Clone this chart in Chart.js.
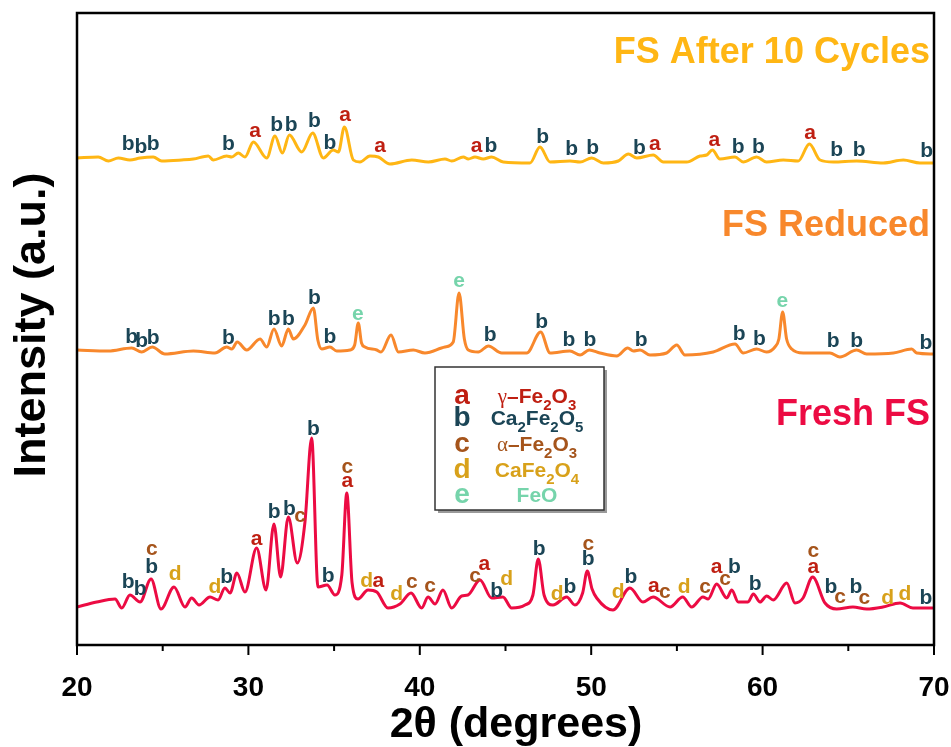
<!DOCTYPE html>
<html>
<head>
<meta charset="utf-8">
<script src="https://cdn.jsdelivr.net/npm/chart.js@4.4.0/dist/chart.umd.min.js"></script>
<style>
  html, body { margin: 0; padding: 0; background: #fff; }
</style>
</head>
<body>
<canvas id="xrd" width="951" height="747"></canvas>
<script>
// XRD patterns, [2theta, intensity (a.u., already stacked)]
var freshFS = [
  [20.0,38],[21.15,43],[22.22,46],[22.61,37],[23.09,50],[23.68,43],[24.32,66],[24.90,36],
  [25.66,58],[26.30,38],[26.69,47],[27.12,40],[27.76,48],[28.23,45],[28.63,57],[28.93,52],
  [29.33,72],[29.80,53],[30.48,97],[31.03,55],[31.49,121],[31.88,68],[32.33,128],[32.85,82],
  [33.30,123],[33.69,207],[34.06,58],[34.59,60],[35.05,50],[35.45,70],[35.74,152],[36.05,62],
  [36.39,46],[36.98,55],[37.49,53],[38.14,37],[38.84,41],[39.49,52],[40.11,37],[40.48,48],
  [40.89,41],[41.35,55],[41.86,37],[42.44,49],[42.81,50],[43.51,65],[44.19,47],[44.85,48],
  [45.36,37],[46.14,40],[46.60,50],[46.91,86],[47.25,50],[47.77,40],[48.57,48],[49.05,40],
  [49.50,52],[49.77,74],[50.05,56],[50.32,47],[51.27,35],[52.26,57],[53.02,43],[53.61,48],
  [54.60,38],[55.34,48],[55.86,38],[56.52,48],[56.82,46],[57.32,61],[57.91,47],[58.20,55],
  [58.58,43],[59.15,43],[59.46,51],[59.85,43],[60.24,49],[60.62,45],[61.41,62],[61.89,42],
  [62.36,47],[62.92,68],[63.64,42],[64.32,36],[65.27,38],[66.07,36],[67.02,38],[68.02,42],
  [68.77,37],[69.94,37]
];
var fsReduced = [
  [20.0,295],[21.83,294],[23.19,297],[23.77,293],[24.39,298],[25.13,291],[26.79,294],[28.05,292],
  [28.73,298],[29.03,296],[29.35,303],[29.90,295],[30.68,306],[31.07,298],[31.49,316],[31.94,299],
  [32.33,316],[32.62,306],[33.30,320],[33.79,337],[34.05,305],[34.28,296],[34.76,298],[35.15,294],
  [35.93,295],[36.20,300],[36.41,322],[36.60,302],[36.80,298],[37.49,295],[37.74,293],[38.32,310],
  [38.75,293],[39.62,295],[40.30,292],[41.47,298],[41.95,303],[42.29,352],[42.60,306],[42.83,295],
  [43.41,293],[44.00,299],[44.78,292],[46.24,292],[47.05,313],[47.60,292],[48.76,294],[49.35,290],
  [49.89,295],[50.51,292],[51.49,289],[52.13,297],[52.46,294],[52.85,295],[53.43,290],[54.40,292],
  [54.99,300],[55.47,290],[57.12,293],[58.39,301],[58.87,292],[59.65,296],[60.23,293],[60.72,298],
  [60.95,306],[61.17,333],[61.40,306],[61.70,296],[62.37,292],[63.93,292],[64.51,288],[65.49,295],
  [66.07,291],[67.63,292],[68.70,296],[68.99,292],[69.96,291]
];
var fsAfterCycles = [
  [20.0,487],[21.24,488],[21.83,484],[22.41,487],[23.09,485],[23.68,487],[24.45,488],[24.94,484],
  [26.11,485],[26.79,486],[27.66,489],[27.95,485],[28.73,489],[29.03,488],[29.41,492],[29.80,488],
  [30.29,503],[31.07,487],[31.55,509],[31.98,492],[32.39,510],[33.11,493],[33.75,512],[34.37,487],
  [34.95,495],[35.25,493],[35.60,518],[36.12,485],[36.51,483],[37.09,489],[37.58,488],[38.26,481],
  [39.53,485],[40.50,483],[41.47,486],[41.86,484],[42.54,488],[42.83,486],[43.22,488],[43.70,486],
  [44.19,488],[44.87,483],[46.43,482],[47.01,498],[47.60,483],[48.76,484],[49.35,483],[50.03,487],
  [50.71,482],[51.58,484],[52.17,491],[52.66,487],[53.62,490],[54.21,483],[55.57,483],[56.35,489],
  [56.74,490],[57.07,495],[57.51,486],[58.39,488],[58.87,483],[59.65,488],[60.23,483],[61.21,485],
  [62.08,484],[62.73,501],[63.35,485],[64.13,483],[65.49,484],[67.04,482],[68.21,485],[69.18,482],
  [69.96,482]
];

// phase marks above peaks: [2theta, intensity, phase letter]
var freshPeaks = [
  [22.99,57,'b'],[23.68,50,'b'],[24.36,72,'b'],[24.36,90,'c'],[25.72,65,'d'],[28.05,52,'d'],
  [28.73,62,'b'],[30.48,100,'a'],[31.51,127,'b'],[32.39,130,'b'],[33.01,123,'c'],[33.79,210,'b'],
  [34.66,63,'b'],[35.77,158,'a'],[35.77,172,'c'],[36.90,58,'d'],[37.58,58,'a'],[38.65,45,'d'],
  [39.53,57,'c'],[40.60,53,'c'],[43.22,63,'c'],[43.76,75,'a'],[44.49,48,'b'],[45.07,60,'d'],
  [46.97,90,'b'],[48.02,45,'d'],[48.76,52,'b'],[49.83,80,'b'],[49.83,95,'c'],[51.58,47,'d'],
  [52.32,62,'b'],[53.66,53,'a'],[54.30,47,'c'],[55.43,52,'d'],[56.64,52,'c'],[57.32,72,'a'],
  [57.81,60,'c'],[58.35,72,'b'],[59.56,55,'b'],[62.96,72,'a'],[62.96,88,'c'],[63.99,52,'b'],
  [64.52,42,'c'],[65.45,52,'b'],[65.93,41,'c'],[67.30,41,'d'],[68.31,45,'d'],[69.53,41,'b']
];
var reducedPeaks = [
  [23.19,302,'b'],[23.77,298,'b'],[24.45,301,'b'],[28.83,301,'b'],[31.51,320,'b'],[32.33,320,'b'],
  [33.85,341,'b'],[34.76,302,'b'],[36.38,325,'e'],[42.29,358,'e'],[44.10,304,'b'],[47.11,317,'b'],
  [48.70,299,'b'],[49.93,299,'b'],[52.91,299,'b'],[58.63,305,'b'],[59.81,300,'b'],[61.15,338,'e'],
  [64.12,298,'b'],[65.49,298,'b'],[69.53,296,'b']
];
var afterPeaks = [
  [22.99,495,'b'],[23.73,492,'b'],[24.45,495,'b'],[28.83,495,'b'],[30.39,508,'a'],[31.65,514,'b'],
  [32.49,514,'b'],[33.85,518,'b'],[34.76,496,'b'],[35.64,524,'a'],[37.68,493,'a'],[43.32,493,'a'],
  [44.15,493,'b'],[47.17,502,'b'],[48.86,490,'b'],[50.09,491,'b'],[52.81,491,'b'],[53.72,495,'a'],
  [57.18,499,'a'],[58.58,492,'b'],[59.75,492,'b'],[62.77,506,'a'],[64.32,489,'b'],[65.64,489,'b'],
  [69.57,488,'b']
];

var seriesNames = ['Fresh FS', 'FS Reduced', 'FS After 10 Cycles'];
var seriesColors = ['#ec0b43', '#f8882c', '#ffb614'];
var seriesNameY = [220, 409, 582];

var phaseKeys = ['a', 'b', 'c', 'd', 'e'];
var phaseNames = ['\u03b3\u2013Fe_2O_3', 'Ca_2Fe_2O_5', '\u03b1\u2013Fe_2O_3', 'CaFe_2O_4', 'FeO'];
var phaseColors = { a: '#bf1f12', b: '#1b4556', c: '#a5541b', d: '#d8a11a', e: '#76d4ab' };

var xTicks = [20, 30, 40, 50, 60, 70];
var xMinorTicks = [25, 35, 45, 55, 65];

function toPoints(arr) {
  return arr.map(function (p) { return { x: p[0], y: p[1] }; });
}

var SANS = '"Liberation Sans", Arial, sans-serif';

// formula with "_x" subscripts, greek letters in serif
function drawFormula(ctx, text, cx, y, color) {
  var parts = [];
  for (var i = 0; i < text.length; i++) {
    var ch = text[i];
    if (ch === '_') { parts.push({ t: text[i + 1], sub: true }); i++; }
    else parts.push({ t: ch, sub: false, greek: /[\u03b1-\u03c9]/.test(ch) });
  }
  function fontFor(p) {
    if (p.sub) return 'bold 15px ' + SANS;
    if (p.greek) return '21px "Liberation Serif", serif';
    return 'bold 21px ' + SANS;
  }
  var w = 0;
  parts.forEach(function (p) { ctx.font = fontFor(p); p.w = ctx.measureText(p.t).width; w += p.w; });
  var x = cx - w / 2;
  ctx.fillStyle = color;
  ctx.textAlign = 'left';
  ctx.textBaseline = 'alphabetic';
  parts.forEach(function (p) {
    ctx.font = fontFor(p);
    ctx.fillText(p.t, x, p.sub ? y + 7 : y);
    x += p.w;
  });
}

var decorations = {
  id: 'decorations',
  afterDatasetsDraw: function (chart) {
    var ctx = chart.ctx;
    var xs = chart.scales.x, ys = chart.scales.y;
    var area = chart.chartArea;
    ctx.save();

    // peak letters
    ctx.font = 'bold 21px ' + SANS;
    ctx.textAlign = 'center';
    ctx.textBaseline = 'alphabetic';
    [freshPeaks, reducedPeaks, afterPeaks].forEach(function (list) {
      list.forEach(function (p) {
        ctx.fillStyle = phaseColors[p[2]];
        ctx.fillText(p[2], xs.getPixelForValue(p[0]), ys.getPixelForValue(p[1]));
      });
    });

    // pattern names
    ctx.font = 'bold 36px ' + SANS;
    ctx.textAlign = 'right';
    seriesNames.forEach(function (n, i) {
      ctx.fillStyle = seriesColors[i];
      ctx.fillText(n, area.right - 4, ys.getPixelForValue(seriesNameY[i]));
    });

    // phase legend box
    var bx = 435, by = 367, bw = 169, bh = 143;
    ctx.fillStyle = '#9a9a9a';
    ctx.fillRect(bx + 3, by + 3, bw, bh);
    ctx.fillStyle = '#ffffff';
    ctx.fillRect(bx, by, bw, bh);
    ctx.strokeStyle = '#333';
    ctx.lineWidth = 1.5;
    ctx.strokeRect(bx, by, bw, bh);
    var rowY = [404, 426, 452, 478, 503];
    phaseKeys.forEach(function (k, i) {
      ctx.font = 'bold 28px ' + SANS;
      ctx.textAlign = 'center';
      ctx.fillStyle = phaseColors[k];
      ctx.fillText(k, 462, rowY[i]);
      drawFormula(ctx, phaseNames[i], 537, rowY[i] - 1, phaseColors[k]);
    });

    // frame
    ctx.strokeStyle = '#000';
    ctx.lineWidth = 2.5;
    ctx.strokeRect(area.left, area.top, area.right - area.left, area.bottom - area.top);

    // ticks
    ctx.lineWidth = 2;
    ctx.beginPath();
    xTicks.forEach(function (t) {
      var px = xs.getPixelForValue(t);
      ctx.moveTo(px, area.bottom); ctx.lineTo(px, area.bottom + 10);
    });
    xMinorTicks.forEach(function (t) {
      var px = xs.getPixelForValue(t);
      ctx.moveTo(px, area.bottom); ctx.lineTo(px, area.bottom + 6);
    });
    ctx.stroke();

    // axis titles
    ctx.fillStyle = '#000';
    ctx.font = 'bold 43px ' + SANS;
    ctx.textAlign = 'center';
    ctx.fillText('2\u03b8 (degrees)', 516, 737);

    ctx.translate(45, 325);
    ctx.rotate(-Math.PI / 2);
    ctx.font = 'bold 45px ' + SANS;
    ctx.fillText('Intensity (a.u.)', 0, 0);
    ctx.restore();
  }
};

new Chart(document.getElementById('xrd'), {
  type: 'line',
  data: {
    datasets: [
      { label: seriesNames[0], data: toPoints(freshFS), borderColor: seriesColors[0] },
      { label: seriesNames[1], data: toPoints(fsReduced), borderColor: seriesColors[1] },
      { label: seriesNames[2], data: toPoints(fsAfterCycles), borderColor: seriesColors[2] }
    ]
  },
  options: {
    responsive: false,
    animation: false,
    devicePixelRatio: 1,
    layout: { padding: { left: 77, right: 17, top: 13, bottom: 0 } },
    elements: {
      point: { radius: 0 },
      line: { borderWidth: 3, cubicInterpolationMode: 'monotone' }
    },
    plugins: { legend: { display: false }, tooltip: { enabled: false } },
    scales: {
      x: {
        type: 'linear',
        min: 20, max: 70,
        afterBuildTicks: function (scale) {
          scale.ticks = xTicks.map(function (v) { return { value: v }; });
        },
        afterFit: function (scale) {
          scale.height = 102;
          scale.paddingLeft = 0;
          scale.paddingRight = 0;
        },
        grid: { display: false, drawTicks: false },
        border: { display: false },
        ticks: {
          padding: 26,
          maxRotation: 0,
          autoSkip: false,
          color: '#000',
          font: { family: SANS, size: 28, weight: 'bold' }
        }
      },
      y: {
        display: false,
        min: 0, max: 632
      }
    }
  },
  plugins: [decorations]
});
</script>
</body>
</html>
